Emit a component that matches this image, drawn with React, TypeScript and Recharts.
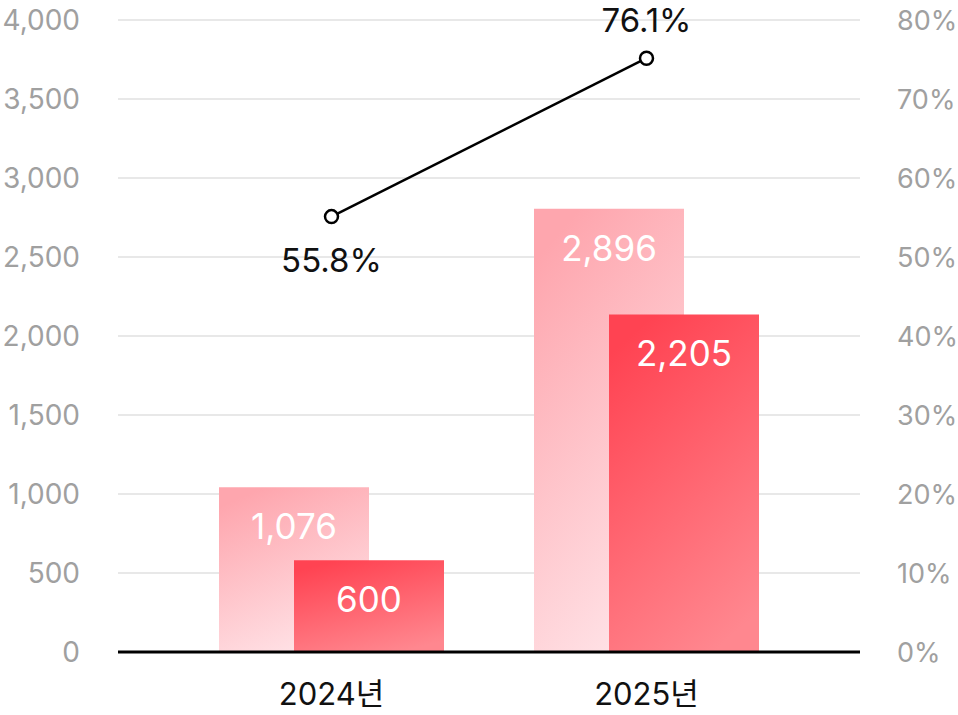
import React from 'react';
import { ComposedChart, Bar, Line, XAxis, YAxis, CartesianGrid, LabelList } from 'recharts';

const years = ['2024년', '2025년'];
const totalValues = [1076, 2896];
const partValues = [600, 2205];
const ratioValues = [55.8, 76.1];
const leftTicks = [0, 500, 1000, 1500, 2000, 2500, 3000, 3500, 4000];
const rightTicks = [0, 10, 20, 30, 40, 50, 60, 70, 80];

const data = years.map((year, i) => ({
  year,
  total: totalValues[i],
  part: partValues[i],
  ratio: ratioValues[i],
}));

const FONT = "Inter, 'Noto Sans CJK KR', sans-serif";

const RatioLabel = (props: any) => {
  const { x, y, value, index } = props;
  const below = index === 0;
  return (
    <text
      x={x}
      y={below ? y + 43 : y - 38}
      textAnchor="middle"
      dominantBaseline="central"
      fill="#111"
      fontSize={33}
      fontFamily={FONT}
    >
      {`${value}%`}
    </text>
  );
};

export default function App() {
  return (
    <div style={{ position: 'absolute', left: 0, top: 0, background: '#fff' }}>
      <ComposedChart
        width={958}
        height={715}
        data={data}
        margin={{ top: 20, right: 0, bottom: 0, left: 0 }}
        barGap={-75}
        style={{ fontFamily: FONT }}
      >
        <defs>
          <linearGradient id="gradLight" x1="0.3" y1="0" x2="0.7" y2="1">
            <stop offset="0%" stopColor="#FEA6AE" />
            <stop offset="100%" stopColor="#FFE5E9" />
          </linearGradient>
          <linearGradient id="gradDark" x1="0.3" y1="0" x2="0.7" y2="1">
            <stop offset="0%" stopColor="#FF4352" />
            <stop offset="100%" stopColor="#FF878F" />
          </linearGradient>
        </defs>
        <CartesianGrid yAxisId="left" vertical={false} stroke="#E8E8E8" strokeWidth={2} />
        <XAxis
          dataKey="year"
          height={63}
          padding={{ left: 56, right: 56 }}
          axisLine={{ stroke: '#000', strokeWidth: 3 }}
          tickLine={false}
          tickSize={0}
          tickMargin={31}
          tick={{ fill: '#111', fontSize: 31, fontFamily: FONT }}
        />
        <YAxis yAxisId="bar" hide width={0} orientation="left" type="number" domain={[0, 4130]} allowDataOverflow />
        <YAxis yAxisId="pct" hide width={0} orientation="right" type="number" domain={[0, 81]} allowDataOverflow />
        <YAxis
          yAxisId="left"
          orientation="left"
          type="number"
          width={118}
          domain={[0, 4000]}
          allowDataOverflow
          ticks={leftTicks}
          interval={0}
          axisLine={false}
          tickLine={false}
          tickSize={0}
          tickMargin={38}
          tickFormatter={(v: number) => v.toLocaleString('en-US')}
          tick={{ fill: '#A0A0A0', fontSize: 28, fontFamily: FONT }}
        />
        <YAxis
          yAxisId="right"
          orientation="right"
          type="number"
          width={98}
          domain={[0, 80]}
          allowDataOverflow
          ticks={rightTicks}
          interval={0}
          axisLine={false}
          tickLine={false}
          tickSize={0}
          tickMargin={37}
          tickFormatter={(v: number) => `${v}%`}
          tick={{ fill: '#A0A0A0', fontSize: 27, fontFamily: FONT, textAnchor: 'start' }}
        />
        <Bar dataKey="total" yAxisId="bar" barSize={150} fill="url(#gradLight)" isAnimationActive={false}>
          <LabelList
            dataKey="total"
            position="insideTop"
            offset={27}
            fill="#fff"
            fontSize={35}
            fontFamily={FONT}
            formatter={(v: any) => Number(v).toLocaleString('en-US')}
          />
        </Bar>
        <Bar dataKey="part" yAxisId="bar" barSize={150} fill="url(#gradDark)" isAnimationActive={false}>
          <LabelList
            dataKey="part"
            position="insideTop"
            offset={27}
            fill="#fff"
            fontSize={35}
            fontFamily={FONT}
            formatter={(v: any) => Number(v).toLocaleString('en-US')}
          />
        </Bar>
        <Line
          dataKey="ratio"
          yAxisId="pct"
          stroke="#000"
          strokeWidth={2.5}
          dot={{ r: 6.5, fill: '#fff', stroke: '#000', strokeWidth: 2.5 }}
          activeDot={false}
          isAnimationActive={false}
          label={<RatioLabel />}
        />
      </ComposedChart>
    </div>
  );
}
